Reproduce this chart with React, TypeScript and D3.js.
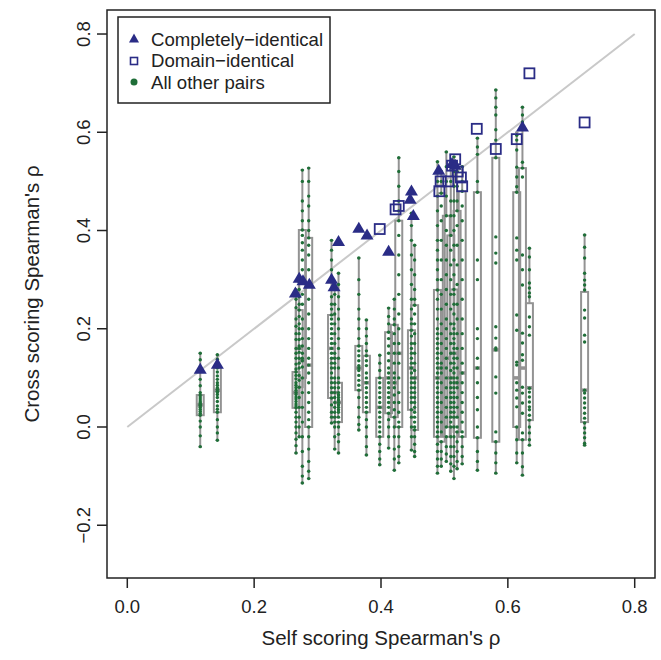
import React from "react";
import * as d3 from "d3";

// ---- data ----
const groupX = [0.115, 0.142, 0.266, 0.271, 0.276, 0.286, 0.322, 0.327, 0.333, 0.365, 0.377, 0.398, 0.412, 0.421, 0.428, 0.448, 0.453, 0.489, 0.495, 0.503, 0.51, 0.515, 0.52, 0.528, 0.552, 0.581, 0.614, 0.623, 0.634, 0.721];
const whiskerLow = [-0.04, -0.027, -0.053, -0.02, -0.114, -0.105, 0.008, -0.045, -0.053, -0.006, -0.057, -0.077, -0.043, -0.088, -0.073, -0.047, -0.06, -0.094, -0.08, -0.07, -0.09, -0.105, -0.085, -0.075, -0.088, -0.094, -0.073, -0.098, -0.037, -0.037];
const boxQ1 = [0.024, 0.03, 0.039, 0.081, 0.1, 0.0, 0.059, 0.02, 0.01, 0.075, 0.03, -0.02, 0.028, 0.02, 0.0, 0.035, -0.006, -0.02, -0.03, -0.02, 0.0, 0.02, -0.01, -0.02, -0.022, -0.03, 0.0, -0.026, 0.014, 0.01];
const boxMedian = [0.045, 0.075, 0.07, 0.16, 0.135, 0.126, 0.16, 0.07, 0.05, 0.12, 0.09, 0.04, 0.1, 0.09, 0.15, 0.12, 0.1, 0.1, 0.12, 0.14, 0.1, 0.15, 0.09, 0.11, 0.12, 0.157, 0.1, 0.12, 0.08, 0.075];
const boxQ3 = [0.065, 0.12, 0.112, 0.238, 0.401, 0.385, 0.228, 0.14, 0.09, 0.165, 0.145, 0.1, 0.193, 0.208, 0.42, 0.197, 0.248, 0.279, 0.476, 0.43, 0.39, 0.28, 0.44, 0.48, 0.478, 0.548, 0.478, 0.527, 0.252, 0.275];
const whiskerHigh = [0.15, 0.147, 0.279, 0.295, 0.523, 0.527, 0.38, 0.29, 0.313, 0.344, 0.218, 0.146, 0.242, 0.26, 0.548, 0.435, 0.37, 0.54, 0.52, 0.56, 0.53, 0.55, 0.52, 0.53, 0.588, 0.686, 0.6, 0.651, 0.364, 0.391];

const groupPoints: number[][] = [
  [0.15, 0.137, 0.118, 0.097, 0.084, 0.07, 0.065, 0.061, 0.057, 0.053, 0.05, 0.047, 0.045, 0.043, 0.04, 0.036, 0.032, 0.028, 0.024, 0.012, 0.0, -0.018, -0.04],
  [0.147, 0.138, 0.128, 0.12, 0.112, 0.104, 0.097, 0.09, 0.085, 0.08, 0.077, 0.073, 0.07, 0.066, 0.06, 0.052, 0.043, 0.036, 0.03, 0.015, 0.0, -0.012, -0.027],
  [0.279, 0.26, 0.243, 0.22, 0.205, 0.19, 0.178, 0.16, 0.15, 0.14, 0.128, 0.118, 0.112, 0.105, 0.098, 0.09, 0.085, 0.08, 0.075, 0.07, 0.066, 0.061, 0.057, 0.052, 0.047, 0.043, 0.039, 0.03, 0.02, 0.01, 0.0, -0.012, -0.025, -0.038, -0.053],
  [0.295, 0.28, 0.265, 0.25, 0.238, 0.225, 0.21, 0.2, 0.19, 0.178, 0.165, 0.16, 0.152, 0.14, 0.13, 0.12, 0.105, 0.095, 0.081, 0.06, 0.04, 0.02, 0.0, -0.02],
  [0.523, 0.5, 0.46, 0.44, 0.42, 0.401, 0.39, 0.375, 0.36, 0.34, 0.32, 0.3, 0.27, 0.25, 0.22, 0.2, 0.18, 0.165, 0.15, 0.14, 0.135, 0.122, 0.1, 0.07, 0.04, 0.01, -0.02, -0.05, -0.08, -0.1, -0.114],
  [0.527, 0.5, 0.47, 0.45, 0.42, 0.4, 0.385, 0.37, 0.35, 0.32, 0.29, 0.26, 0.23, 0.2, 0.18, 0.16, 0.14, 0.126, 0.11, 0.09, 0.07, 0.05, 0.03, 0.015, 0.0, -0.02, -0.045, -0.07, -0.09, -0.105],
  [0.38, 0.36, 0.34, 0.32, 0.3, 0.28, 0.265, 0.25, 0.24, 0.228, 0.22, 0.21, 0.2, 0.19, 0.18, 0.17, 0.16, 0.15, 0.14, 0.13, 0.12, 0.11, 0.1, 0.09, 0.08, 0.07, 0.059, 0.045, 0.03, 0.02, 0.008],
  [0.29, 0.27, 0.25, 0.23, 0.21, 0.19, 0.17, 0.15, 0.14, 0.13, 0.12, 0.1, 0.09, 0.08, 0.07, 0.06, 0.05, 0.04, 0.03, 0.02, 0.01, 0.0, -0.02, -0.045],
  [0.313, 0.29, 0.265, 0.24, 0.22, 0.2, 0.18, 0.16, 0.14, 0.12, 0.1, 0.09, 0.08, 0.07, 0.065, 0.06, 0.055, 0.05, 0.045, 0.04, 0.035, 0.03, 0.02, 0.01, 0.0, -0.015, -0.03, -0.053],
  [0.344, 0.3, 0.27, 0.24, 0.22, 0.2, 0.18, 0.165, 0.155, 0.145, 0.135, 0.125, 0.12, 0.115, 0.105, 0.095, 0.085, 0.075, 0.06, 0.04, 0.02, 0.005, -0.006],
  [0.218, 0.2, 0.185, 0.17, 0.155, 0.145, 0.135, 0.125, 0.11, 0.1, 0.09, 0.08, 0.07, 0.06, 0.05, 0.04, 0.03, 0.015, 0.0, -0.02, -0.04, -0.057],
  [0.146, 0.13, 0.115, 0.1, 0.09, 0.08, 0.07, 0.06, 0.05, 0.04, 0.03, 0.02, 0.01, 0.0, -0.01, -0.02, -0.035, -0.05, -0.065, -0.077],
  [0.242, 0.225, 0.21, 0.193, 0.18, 0.165, 0.15, 0.135, 0.12, 0.11, 0.1, 0.09, 0.08, 0.07, 0.06, 0.05, 0.04, 0.028, 0.015, 0.0, -0.02, -0.043],
  [0.26, 0.24, 0.22, 0.208, 0.19, 0.17, 0.15, 0.13, 0.11, 0.1, 0.09, 0.08, 0.065, 0.05, 0.035, 0.02, 0.0, -0.02, -0.045, -0.065, -0.088],
  [0.548, 0.52, 0.49, 0.46, 0.44, 0.42, 0.39, 0.35, 0.31, 0.27, 0.23, 0.2, 0.17, 0.15, 0.13, 0.1, 0.07, 0.05, 0.03, 0.01, 0.0, -0.02, -0.04, -0.06, -0.073],
  [0.435, 0.41, 0.38, 0.35, 0.32, 0.29, 0.26, 0.24, 0.22, 0.21, 0.197, 0.185, 0.17, 0.16, 0.15, 0.14, 0.13, 0.12, 0.11, 0.1, 0.09, 0.08, 0.07, 0.06, 0.05, 0.035, 0.02, 0.0, -0.02, -0.047],
  [0.37, 0.34, 0.31, 0.28, 0.26, 0.248, 0.23, 0.21, 0.19, 0.17, 0.15, 0.13, 0.115, 0.1, 0.09, 0.08, 0.07, 0.06, 0.05, 0.04, 0.03, 0.02, 0.01, 0.0, -0.006, -0.02, -0.035, -0.05, -0.06],
  [0.54, 0.5, 0.47, 0.44, 0.41, 0.38, 0.36, 0.34, 0.32, 0.3, 0.279, 0.26, 0.24, 0.22, 0.2, 0.19, 0.18, 0.17, 0.16, 0.15, 0.14, 0.13, 0.12, 0.11, 0.1, 0.09, 0.08, 0.07, 0.06, 0.05, 0.04, 0.03, 0.02, 0.01, 0.0, -0.01, -0.02, -0.035, -0.05, -0.065, -0.08, -0.094],
  [0.52, 0.5, 0.476, 0.45, 0.42, 0.38, 0.34, 0.3, 0.27, 0.24, 0.21, 0.19, 0.17, 0.15, 0.13, 0.12, 0.11, 0.09, 0.07, 0.05, 0.03, 0.01, -0.01, -0.03, -0.05, -0.065, -0.08],
  [0.56, 0.53, 0.5, 0.47, 0.43, 0.4, 0.37, 0.34, 0.31, 0.28, 0.25, 0.22, 0.2, 0.18, 0.16, 0.14, 0.12, 0.1, 0.08, 0.06, 0.04, 0.02, 0.0, -0.02, -0.04, -0.055, -0.07],
  [0.53, 0.5, 0.46, 0.43, 0.39, 0.36, 0.33, 0.3, 0.27, 0.24, 0.21, 0.19, 0.17, 0.15, 0.13, 0.115, 0.1, 0.09, 0.08, 0.07, 0.06, 0.05, 0.04, 0.03, 0.02, 0.01, 0.0, -0.02, -0.04, -0.06, -0.075, -0.09],
  [0.55, 0.52, 0.49, 0.46, 0.43, 0.4, 0.37, 0.34, 0.31, 0.28, 0.27, 0.25, 0.23, 0.21, 0.2, 0.19, 0.18, 0.17, 0.16, 0.15, 0.14, 0.13, 0.12, 0.11, 0.1, 0.09, 0.08, 0.07, 0.06, 0.05, 0.04, 0.03, 0.02, 0.0, -0.02, -0.04, -0.06, -0.08, -0.105],
  [0.52, 0.49, 0.46, 0.44, 0.41, 0.37, 0.33, 0.29, 0.25, 0.22, 0.19, 0.16, 0.14, 0.12, 0.1, 0.09, 0.08, 0.06, 0.04, 0.02, 0.0, -0.01, -0.03, -0.05, -0.07, -0.085],
  [0.53, 0.5, 0.48, 0.45, 0.42, 0.38, 0.34, 0.3, 0.26, 0.22, 0.19, 0.16, 0.13, 0.11, 0.09, 0.07, 0.05, 0.03, 0.01, -0.01, -0.02, -0.04, -0.06, -0.075],
  [0.588, 0.57, 0.555, 0.5, 0.478, 0.34, 0.3, 0.2, 0.18, 0.14, 0.12, 0.09, 0.06, 0.035, 0.0, -0.022, -0.05, -0.07, -0.088],
  [0.686, 0.67, 0.651, 0.635, 0.605, 0.584, 0.548, 0.387, 0.354, 0.334, 0.204, 0.181, 0.161, 0.157, 0.102, 0.069, -0.01, -0.03, -0.053, -0.073, -0.094],
  [0.594, 0.584, 0.564, 0.529, 0.509, 0.489, 0.478, 0.385, 0.36, 0.34, 0.228, 0.197, 0.132, 0.126, 0.09, 0.075, 0.059, 0.041, 0.0, -0.026, -0.053, -0.073],
  [0.651, 0.635, 0.621, 0.539, 0.527, 0.509, 0.35, 0.32, 0.289, 0.191, 0.171, 0.147, 0.136, 0.081, 0.069, 0.049, 0.028, -0.012, -0.026, -0.053, -0.081, -0.098],
  [0.364, 0.346, 0.32, 0.293, 0.283, 0.273, 0.265, 0.224, 0.204, 0.187, 0.079, 0.071, 0.061, 0.051, 0.041, 0.035, 0.024, 0.014, 0.0, -0.012, -0.026, -0.037],
  [0.391, 0.366, 0.344, 0.313, 0.299, 0.289, 0.279, 0.238, 0.222, 0.187, 0.173, 0.075, 0.069, 0.059, 0.049, 0.039, 0.028, 0.018, 0.008, -0.002, -0.012, -0.022, -0.033, -0.037],
];

const triangleX = [0.115, 0.142, 0.265, 0.271, 0.277, 0.287, 0.322, 0.326, 0.333, 0.365, 0.378, 0.412, 0.446, 0.448, 0.451, 0.491, 0.512, 0.517, 0.623];
const triangleY = [0.117, 0.127, 0.272, 0.302, 0.297, 0.29, 0.3, 0.285, 0.377, 0.404, 0.39, 0.357, 0.463, 0.48, 0.43, 0.522, 0.536, 0.532, 0.61];

const squareX = [0.398, 0.423, 0.428, 0.492, 0.494, 0.506, 0.512, 0.517, 0.521, 0.526, 0.528, 0.551, 0.581, 0.614, 0.634, 0.721];
const squareY = [0.403, 0.443, 0.45, 0.48, 0.5, 0.5, 0.532, 0.545, 0.52, 0.508, 0.49, 0.607, 0.566, 0.586, 0.72, 0.62];

const xTicks = [0, 0.2, 0.4, 0.6, 0.8];
const yTicks = [-0.2, 0, 0.2, 0.4, 0.6, 0.8];
const legendLabels = ["Completely\u2212identical", "Domain\u2212identical", "All other pairs"];
const xTitle = "Self scoring Spearman's \u03C1";
const yTitle = "Cross scoring Spearman's \u03C1";
const diagonal = [0, 0.8];

// ---- styles ----
const NAVY = "#2a2c86";
const GREEN = "#1f6e38";
const BOXGREY = "#939393";
const FONT = "'Liberation Sans', Arial, Helvetica, sans-serif";

export default function App() {
  const W = 661, H = 660;
  const L = 107, R = 655, T = 10, B = 578;
  const x = d3.scaleLinear().domain([-0.032, 0.832]).range([L, R]);
  const y = d3.scaleLinear().domain([-0.3074, 0.8489]).range([B, T]);
  const fmt = d3.format(".1f");
  const halfBox = 3.5;
  const tri = (cx: number, cy: number, w: number, h: number) =>
    `M${cx},${cy - h * 0.62}L${cx + w / 2},${cy + h * 0.38}L${cx - w / 2},${cy + h * 0.38}Z`;

  return (
    <svg width={W} height={H} style={{ position: "absolute", left: 0, top: 0, background: "#fff" }} fontFamily={FONT}>
      <rect x={0} y={0} width={W} height={H} fill="#fff" />
      {/* diagonal */}
      <line x1={x(diagonal[0])} y1={y(diagonal[0])} x2={x(diagonal[1])} y2={y(diagonal[1])} stroke="#c9c9c9" strokeWidth={2} />
      {/* boxes */}
      {groupX.map((gx, i) => {
        const cx = x(gx);
        return (
          <g key={"b" + i} stroke={BOXGREY} fill="none">
            <line x1={cx} x2={cx} y1={y(whiskerHigh[i])} y2={y(boxQ3[i])} strokeWidth={2} />
            <line x1={cx} x2={cx} y1={y(boxQ1[i])} y2={y(whiskerLow[i])} strokeWidth={2} />
            <line x1={cx - halfBox / 2} x2={cx + halfBox / 2} y1={y(whiskerHigh[i])} y2={y(whiskerHigh[i])} strokeWidth={1.5} />
            <line x1={cx - halfBox / 2} x2={cx + halfBox / 2} y1={y(whiskerLow[i])} y2={y(whiskerLow[i])} strokeWidth={1.5} />
            <rect x={cx - halfBox} y={y(boxQ3[i])} width={halfBox * 2} height={y(boxQ1[i]) - y(boxQ3[i])} strokeWidth={2} />
            <line x1={cx - halfBox} x2={cx + halfBox} y1={y(boxMedian[i])} y2={y(boxMedian[i])} strokeWidth={3.5} />
          </g>
        );
      })}
      {/* points */}
      {groupX.map((gx, i) => (
        <g key={"p" + i} fill={GREEN}>
          {groupPoints[i].map((v, j) => (
            <circle key={j} cx={x(gx)} cy={y(v)} r={1.7} />
          ))}
        </g>
      ))}
      {/* squares */}
      {squareX.map((sx, i) => (
        <rect key={"s" + i} x={x(sx) - 5} y={y(squareY[i]) - 5} width={10} height={10} fill="none" stroke={NAVY} strokeWidth={1.8} />
      ))}
      {/* triangles */}
      {triangleX.map((tx, i) => (
        <path key={"t" + i} d={tri(x(tx), y(triangleY[i]), 13, 11)} fill={NAVY} />
      ))}
      {/* frame */}
      <rect x={L} y={T} width={R - L} height={B - T} fill="none" stroke="#222" strokeWidth={1.5} />
      {/* x axis */}
      {xTicks.map((t) => (
        <g key={"xt" + t}>
          <line x1={x(t)} x2={x(t)} y1={B} y2={B + 10} stroke="#222" strokeWidth={1.5} />
          <text x={x(t)} y={B + 28} textAnchor="middle" dominantBaseline="central" fontSize={18.5} fill="#222">{fmt(t)}</text>
        </g>
      ))}
      {yTicks.map((t) => (
        <g key={"yt" + t}>
          <line x1={L} x2={L - 10} y1={y(t)} y2={y(t)} stroke="#222" strokeWidth={1.5} />
          <text transform={`translate(${L - 24},${y(t)}) rotate(-90)`} textAnchor="middle" dominantBaseline="central" fontSize={18.5} fill="#222">{fmt(t)}</text>
        </g>
      ))}
      <text x={(L + R) / 2} y={B + 59} textAnchor="middle" dominantBaseline="central" fontSize={20.5} fill="#222">{xTitle}</text>
      <text transform={`translate(${L - 76},${(T + B) / 2}) rotate(-90)`} textAnchor="middle" dominantBaseline="central" fontSize={20.5} fill="#222">{yTitle}</text>
      {/* legend */}
      <g>
        <rect x={118} y={17} width={212} height={86} fill="#fff" stroke="#222" strokeWidth={1.5} />
        <path d={tri(134, 39, 10, 9)} fill={NAVY} />
        <rect x={130.5} y={57.5} width={7} height={7} fill="none" stroke={NAVY} strokeWidth={1.6} />
        <circle cx={134} cy={82} r={3.5} fill={GREEN} />
        {legendLabels.map((l, i) => (
          <text key={l} x={151} y={39 + i * 21.5} dominantBaseline="central" fontSize={18.6} fill="#222">{l}</text>
        ))}
      </g>
    </svg>
  );
}
